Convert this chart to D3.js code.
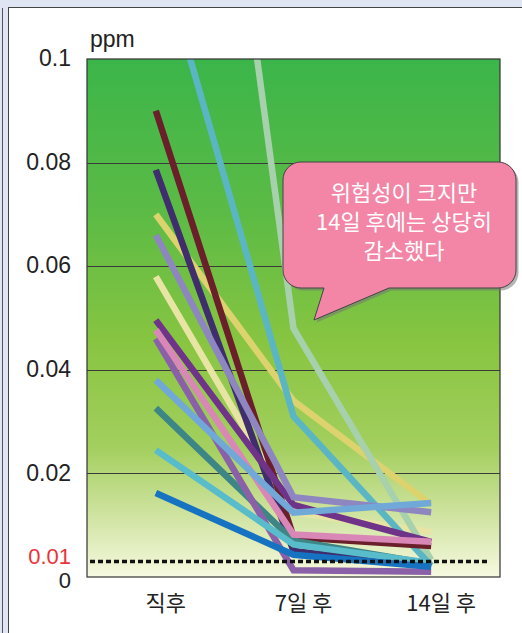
<!DOCTYPE html>
<html>
<head>
<meta charset="utf-8">
<script src="https://cdn.jsdelivr.net/npm/d3@7"></script>
<style>
  body { margin: 0; background: #dfe5f2; }
  svg { display: block; }
</style>
</head>
<body>
<svg id="chart"></svg>
<script>
// x categories and y ticks
const categories = ['직후', '7일 후', '14일 후'];
const yTickValues = [0.02, 0.04, 0.06, 0.08, 0.1];
const yTickLabels = ['0.02', '0.04', '0.06', '0.08', '0.1'];
const refValue = 0.003;     // where the dotted reference line sits in the picture
const refLabel = '0.01';

// one array per line (ppm)
const yellow     = [0.070, 0.034, 0.014];
const paleYellow = [0.058, 0.0125, 0.0087];
const paleGreen  = [0.245, 0.048, 0.0033];
const teal       = [0.123, 0.031, 0.0022];
const darkRed    = [0.090, 0.0077, 0.006];
const navy       = [0.0786, 0.005, 0.002];
const darkPurple = [0.0496, 0.0139, 0.0068];
const lavender   = [0.066, 0.0154, 0.0125];
const darkTeal   = [0.0326, 0.007, 0.0025];
const violet     = [0.046, 0.0013, 0.001];
const pink       = [0.0477, 0.0082, 0.0068];
const lightBlue  = [0.038, 0.0124, 0.0143];
const cyan       = [0.0245, 0.0063, 0.0027];
const blue       = [0.0162, 0.0043, 0.002];

const seriesValues = [yellow, paleYellow, paleGreen, teal, darkRed, navy, darkPurple, lavender,
  darkTeal, violet, pink, lightBlue, cyan, blue];
const seriesColors = ['#dcd36f', '#e8e4a4', '#a7d0ac', '#5bb6c4', '#6a1f2b', '#3f2d6d', '#6f3489',
  '#8e86c0', '#3e8686', '#8a61a8', '#d987b6', '#70a9d8', '#58bccb', '#1673c1'];

const width = 522;
const height = 633;
const plot = { left: 87, right: 500, top: 59, bottom: 577 };

const svg = d3.select('#chart').
attr('width', width).
attr('height', height);

// page frame
svg.append('line').
attr('x1', 2.5).attr('x2', 2.5).attr('y1', 8).attr('y2', height).
style('stroke', '#555').style('stroke-width', 1);

svg.append('rect').
attr('x', 8.5).attr('y', 7.5).
attr('width', width).attr('height', height).
style('fill', '#fff').style('stroke', '#444').style('stroke-width', 1);

const x = d3.scalePoint().
domain(categories).
range([plot.left, plot.right]).
padding(0.5);

const y = d3.scaleLinear().
domain([0, 0.1]).
range([plot.bottom, plot.top]);

const defs = svg.append('defs');

const grad = defs.append('linearGradient').
attr('id', 'bg').
attr('x1', 0).attr('y1', 0).attr('x2', 0).attr('y2', 1);
[['0%', '#3bb54a'], ['30%', '#5cbb45'], ['55%', '#88c541'], ['75%', '#a3cf5e'],
  ['88%', '#cfe3a0'], ['100%', '#f6f9e0']].forEach(function (s) {
  grad.append('stop').attr('offset', s[0]).attr('stop-color', s[1]);
});

defs.append('clipPath').
attr('id', 'plot-clip').
append('rect').
attr('x', plot.left).attr('y', plot.top).
attr('width', plot.right - plot.left).attr('height', plot.bottom - plot.top);

svg.append('rect').
attr('x', plot.left).attr('y', plot.top).
attr('width', plot.right - plot.left).attr('height', plot.bottom - plot.top).
style('fill', 'url(#bg)');

// grid lines
svg.append('g').
selectAll('line').
data(yTickValues.slice(0, 4)).
enter().
append('line').
attr('x1', plot.left).attr('x2', plot.right).
attr('y1', d => Math.round(y(d)) + 0.5).attr('y2', d => Math.round(y(d)) + 0.5).
style('stroke', '#3a3a3a').style('stroke-width', 1.2);

const line = d3.line().
x((d, i) => x(categories[i])).
y(d => y(d));

svg.append('g').
attr('clip-path', 'url(#plot-clip)').
selectAll('path').
data(seriesValues).
enter().
append('path').
attr('d', line).
style('fill', 'none').
style('stroke', (d, i) => seriesColors[i]).
style('stroke-width', 6.5).
style('stroke-linejoin', 'miter').
style('stroke-miterlimit', 2).
style('stroke-linecap', 'butt');

// dotted reference line
svg.append('line').
attr('x1', plot.left + 3).attr('x2', plot.right - 13).
attr('y1', y(refValue)).attr('y2', y(refValue)).
style('stroke', '#111').style('stroke-width', 3.5).
style('stroke-dasharray', '5 3');

// plot frame
svg.append('rect').
attr('x', plot.left).attr('y', plot.top).
attr('width', plot.right - plot.left).attr('height', plot.bottom - plot.top).
style('fill', 'none').style('stroke', '#333').style('stroke-width', 1.2);

// y axis labels
const tickFont = '"Liberation Sans", Arial, sans-serif';

svg.append('g').
selectAll('text').
data(yTickValues).
enter().
append('text').
attr('x', 71).
attr('y', d => y(d) - 1).
attr('dy', '0.36em').
attr('text-anchor', 'end').
style('font-family', tickFont).
style('font-size', '23px').
style('fill', '#222').
text((d, i) => yTickLabels[i]);

svg.append('text').
attr('x', 71).attr('y', y(0) + 3).attr('dy', '0.36em').
attr('text-anchor', 'end').
style('font-family', tickFont).style('font-size', '22px').style('fill', '#222').
text('0');

svg.append('text').
attr('x', 71).attr('y', y(refValue) - 5).attr('dy', '0.36em').
attr('text-anchor', 'end').
style('font-family', tickFont).style('font-size', '22px').style('fill', '#e8343a').
text(refLabel);

svg.append('text').
attr('x', 90).attr('y', 47).
style('font-family', tickFont).style('font-size', '23px').style('fill', '#222').
text('ppm');

// x axis labels
const krFont = '"Noto Sans CJK KR", "Noto Sans", sans-serif';

svg.append('g').
selectAll('text').
data(categories).
enter().
append('text').
attr('x', d => x(d) + 10).
attr('y', 611).
attr('text-anchor', 'middle').
style('font-family', krFont).
style('font-size', '22px').
style('fill', '#222').
text(d => d);

// callout bubble
const bubble = { left: 283, right: 516, top: 162, bottom: 288, r: 18 };
const bubblePath = function () {
  const p = d3.path();
  const b = bubble;
  p.moveTo(b.left + b.r, b.top);
  p.lineTo(b.right - b.r, b.top);
  p.arcTo(b.right, b.top, b.right, b.top + b.r, b.r);
  p.lineTo(b.right, b.bottom - b.r);
  p.arcTo(b.right, b.bottom, b.right - b.r, b.bottom, b.r);
  p.lineTo(389, b.bottom);
  p.lineTo(314, 320);
  p.lineTo(324, b.bottom);
  p.lineTo(b.left + b.r, b.bottom);
  p.arcTo(b.left, b.bottom, b.left, b.bottom - b.r, b.r);
  p.lineTo(b.left, b.top + b.r);
  p.arcTo(b.left, b.top, b.left + b.r, b.top, b.r);
  p.closePath();
  return p.toString();
};

svg.append('path').
attr('d', bubblePath()).
attr('transform', 'translate(2.5,2.5)').
style('fill', '#777').style('opacity', 0.55);

svg.append('path').
attr('d', bubblePath()).
style('fill', '#f386a6').
style('stroke', '#444').style('stroke-width', 1);

const bubbleLines = ['위험성이 크지만', '14일 후에는 상당히', '감소했다'];

svg.append('g').
selectAll('text').
data(bubbleLines).
enter().
append('text').
attr('x', 404).
attr('y', (d, i) => 201 + i * 29).
attr('text-anchor', 'middle').
style('font-family', krFont).
style('font-size', '22px').
style('fill', '#fff').
text(d => d);
</script>
</body>
</html>
